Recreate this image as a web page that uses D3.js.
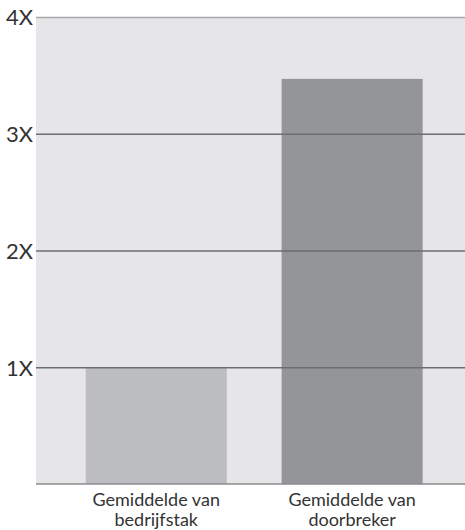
<!DOCTYPE html>
<html>
<head>
<meta charset="utf-8">
<script src="https://cdn.jsdelivr.net/npm/d3@7"></script>
<style>
  body { margin: 0; background: #fff; }
  svg { display: block; }
  text { font-family: "Lato", "Open Sans", sans-serif; fill: #333; }
</style>
</head>
<body>
<svg width="465" height="530"></svg>
<script>
var categories = [["Gemiddelde van", "bedrijfstak"], ["Gemiddelde van", "doorbreker"]];
var values = [1.0, 3.47];
var barColors = ["#bcbdc0", "#939598"];
var tickValues = [1, 2, 3, 4];
var tickLabels = ["1X", "2X", "3X", "4X"];

(function(){
  var svg = d3.select("svg");
  var x0 = 36, x1 = 465, y0 = 484, y1 = 17;

  var x = d3.scaleBand()
    .domain(d3.range(values.length))
    .range([x0, x1])
    .paddingInner(0.28)
    .paddingOuter(0.235)
    .align(0.54);

  var y = d3.scaleLinear().domain([0, 4]).range([y0, y1]);

  // plot background
  svg.append("rect")
    .attr("x", x0).attr("y", y1)
    .attr("width", x1 - x0).attr("height", y0 - y1)
    .attr("fill", "#e6e6e8");

  // bars
  svg.selectAll("rect.bar").data(values)
    .enter().append("rect")
    .attr("class", "bar")
    .attr("x", function(d, i) { return x(i); })
    .attr("width", x.bandwidth())
    .attr("y", function(d) { return y(d); })
    .attr("height", function(d) { return y0 - y(d); })
    .attr("fill", function(d, i) { return barColors[i]; });

  // grid lines + labels
  var yAxis = d3.axisLeft(y)
    .tickValues(tickValues)
    .tickSize(-(x1 - x0))
    .tickFormat(function(d, i) { return tickLabels[i]; });

  var g = svg.append("g").attr("transform", "translate(" + x0 + ",0)").call(yAxis);
  g.select(".domain").remove();
  g.selectAll(".tick line")
    .attr("stroke", function(d) { return d === 4 ? "#a7a8aa" : "#6d6e71"; })
    .attr("stroke-width", 1.5);
  g.selectAll(".tick text")
    .attr("x", -3)
    .attr("dy", "0.36em")
    .style("font-size", "22px")
    .style("font-family", "Lato, sans-serif")
    .attr("fill", "#333");

  // bottom axis line
  svg.append("line")
    .attr("x1", x0).attr("x2", x1)
    .attr("y1", y0).attr("y2", y0)
    .attr("stroke", "#8a8b8d").attr("stroke-width", 1.5);

  // category labels
  var lab = svg.selectAll("text.cat").data(categories)
    .enter().append("text")
    .attr("class", "cat")
    .attr("text-anchor", "middle")
    .style("font-size", "18px");
  lab.selectAll("tspan").data(function(d, i) { return d.map(function(t) { return [t, i]; }); })
    .enter().append("tspan")
    .attr("x", function(d) { return x(d[1]) + x.bandwidth() / 2; })
    .attr("y", function(d, j) { return 506 + j * 20; })
    .text(function(d) { return d[0]; });
})();
</script>
</body>
</html>
